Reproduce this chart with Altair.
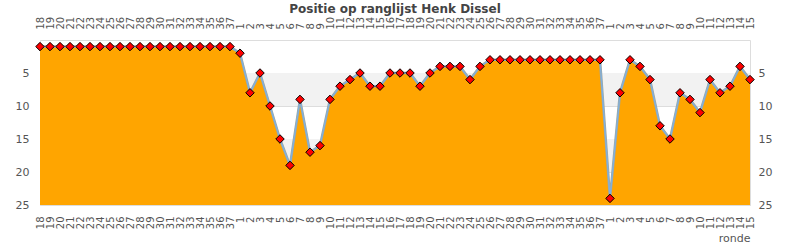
import altair as alt
import pandas as pd

round_labels = [
    "18", "19", "20", "21", "22", "23", "24", "25", "26", "27", "28", "29", "30",
    "31", "32", "33", "34", "35", "36", "37",
    "1", "2", "3", "4", "5", "6", "7", "8", "9", "10", "11", "12", "13", "14",
    "15", "16", "17", "18", "19", "20", "21", "22", "23", "24", "25", "26", "27",
    "28", "29", "30", "31", "32", "33", "34", "35", "36", "37",
    "1", "2", "3", "4", "5", "6", "7", "8", "9", "10", "11", "12", "13", "14", "15",
]

positions = [
    1, 1, 1, 1, 1, 1, 1, 1, 1, 1, 1, 1, 1, 1, 1, 1, 1, 1, 1, 1,
    2, 8, 5, 10, 15, 19, 9, 17, 16, 9, 7, 6, 5, 7, 7, 5, 5, 5, 7, 5,
    4, 4, 4, 6, 4, 3, 3, 3, 3, 3, 3, 3, 3, 3, 3, 3, 3,
    24, 8, 3, 4, 6, 13, 15, 8, 9, 11, 6, 8, 7, 4, 6,
]

band_lo = [5, 15]
band_hi = [10, 20]
y_ticks = [5, 10, 15, 20, 25]

df = pd.DataFrame({
    "idx": list(range(len(positions))),
    "ronde": round_labels,
    "positie": positions,
})
bands = pd.DataFrame({"lo": band_lo, "hi": band_hi})

label_expr = "[" + ",".join("'%s'" % l for l in round_labels) + "][datum.value]"

xscale = alt.Scale(type="point", padding=0)
yscale = alt.Scale(domain=[0, 25], reverse=True, nice=False)

font = "DejaVu Sans"

x_bottom = alt.Axis(
    orient="bottom", labelExpr=label_expr, labelAngle=-90, labelOverlap=False,
    labelFontSize=10, labelColor="#555", labelFont=font, labelPadding=11,
    ticks=False, domain=False, grid=False,
    title="ronde", titleAnchor="end", titleFontWeight="normal", titleFontSize=11,
    titleColor="#555", titleFont=font, titlePadding=4,
)
x_top = alt.Axis(
    orient="top", labelExpr=label_expr, labelAngle=-90, labelOverlap=False,
    labelFontSize=10, labelColor="#555", labelFont=font, labelPadding=11,
    ticks=False, domain=False, grid=False, title=None,
)
y_left = alt.Axis(
    orient="left", values=y_ticks, labelFontSize=11, labelColor="#555",
    labelFont=font, labelPadding=11, ticks=False, domain=False,
    grid=True, gridColor="#dddddd", title=None,
)
y_right = alt.Axis(
    orient="right", values=y_ticks, labelFontSize=11, labelColor="#555",
    labelFont=font, labelPadding=8, ticks=False, domain=False,
    grid=False, title=None,
)

band_layer = alt.Chart(bands).mark_rect(color="#f2f2f2").encode(
    y=alt.Y("lo:Q", scale=yscale, axis=None),
    y2="hi:Q",
)

area = alt.Chart(df).mark_area(color="#FFA500", opacity=1).encode(
    x=alt.X("idx:O", scale=xscale, axis=x_bottom),
    y=alt.Y("positie:Q", scale=yscale, axis=y_left),
    y2=alt.datum(25),
)

shadow = alt.Chart(df).mark_line(color="#a0a8a0", strokeWidth=2.5).encode(
    x=alt.X("idx:O", scale=xscale, axis=None),
    y=alt.Y("positie:Q", scale=yscale, axis=None),
)

line = alt.Chart(df).mark_line(color="#7fb0e0", strokeWidth=1.3).encode(
    x=alt.X("idx:O", scale=xscale, axis=x_top),
    y=alt.Y("positie:Q", scale=yscale, axis=y_right),
)

points = alt.Chart(df).mark_point(
    shape="diamond", filled=True, fill="#ff0000", stroke="#000000",
    strokeWidth=1, size=72, opacity=1,
).encode(
    x=alt.X("idx:O", scale=xscale, axis=None),
    y=alt.Y("positie:Q", scale=yscale, axis=None),
    tooltip=["ronde", "positie"],
)

chart = alt.layer(band_layer, area, shadow, line, points).properties(
    width=710,
    height=165,
    autosize=alt.AutoSizeParams(type="none"),
    padding={"left": 40, "top": 40, "right": 40, "bottom": 45},
    title=alt.TitleParams(
        "Positie op ranglijst Henk Dissel", fontSize=12, fontWeight="bold",
        color="#444", font=font, anchor="middle", offset=0,
    ),
).configure_view(stroke="#cccccc", strokeWidth=1).configure(background="white")

chart.save("out.html", embed_options={"renderer": "svg", "actions": False})
